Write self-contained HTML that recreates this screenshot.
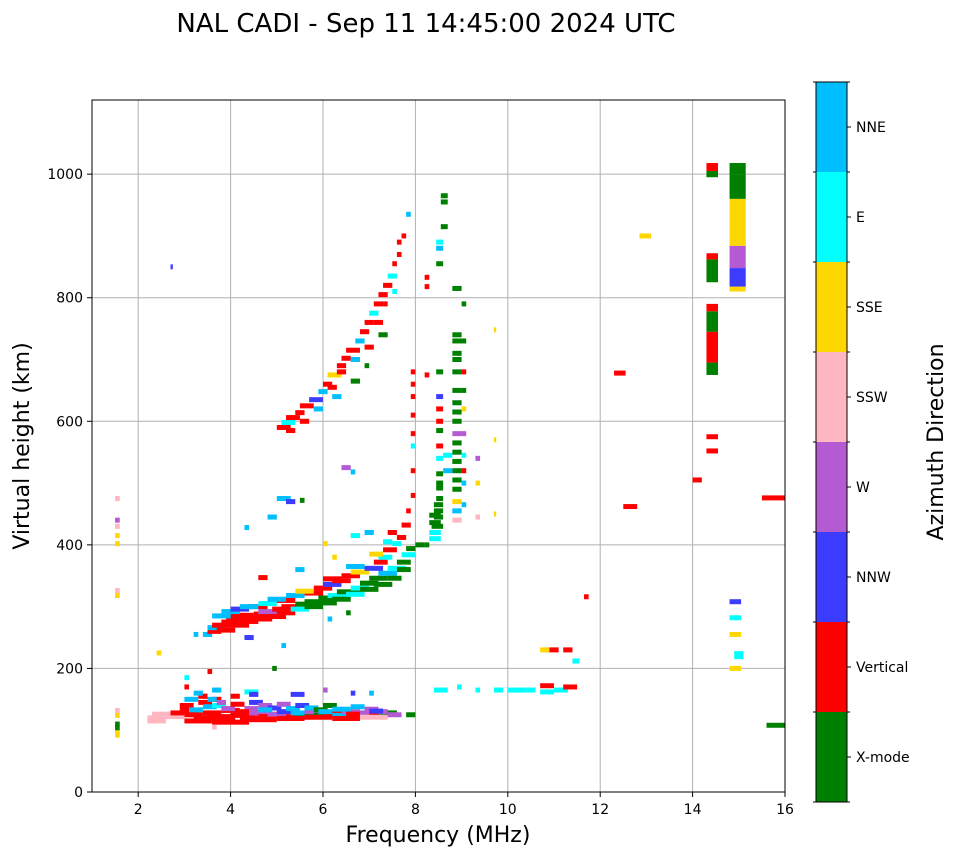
<!DOCTYPE html>
<html><head><meta charset="utf-8"><style>
body{margin:0;background:#fff;}
svg text{font-family:"DejaVu Sans","Liberation Sans",sans-serif;}
</style></head><body>
<svg id="chart" width="958" height="857" viewBox="0 0 958 857" xmlns="http://www.w3.org/2000/svg">
<rect width="958" height="857" fill="#fff"/>
<text x="426" y="32" font-size="26" text-anchor="middle">NAL CADI - Sep 11 14:45:00 2024 UTC</text>
<g id="grid"></g>
<g id="marks"></g>
<rect x="92" y="100" width="693" height="692" fill="none" stroke="#000" stroke-width="1"/>
<g id="axes"></g>
<text x="438" y="842" font-size="22" text-anchor="middle">Frequency (MHz)</text>
<text transform="translate(29,446) rotate(-90)" font-size="22" text-anchor="middle">Virtual height (km)</text>
<g id="cbar"></g>
<text transform="translate(943,442) rotate(-90)" font-size="22" text-anchor="middle">Azimuth Direction</text>
</svg>
<script>
const xTicks=[2,4,6,8,10,12,14,16];
const yTicks=[0,200,400,600,800,1000];
const dirNames=['X-mode','Vertical','NNW','W','SSW','SSE','E','NNE'];
const dirColors=['#008000','#ff0000','#3c3cff','#b45ad2','#ffb6c1','#ffd700','#00ffff','#00bfff'];
// horizontal echo bars: [fStart, fEnd, height_km, dirIndex]
const echoBars=[
[2.2,2.6,115,4],[2.2,2.6,120,4],[2.3,2.7,126,4],[2.6,3.0,122,4],[2.7,3.0,128,1],[2.9,3.3,132,1],[3.0,3.4,125,1],[3.2,3.6,120,1],[3.4,3.8,128,1],[3.5,4.0,122,1],[3.6,4.1,117,1],[3.8,4.2,132,1],[4.0,4.5,124,1],[4.2,4.6,120,1],[4.4,4.8,128,3],[4.6,5.0,122,1],[4.8,5.2,126,3],[5.0,5.4,130,2],[5.2,5.5,122,1],[5.4,5.8,126,0],[5.6,6.0,130,3],[5.8,6.2,124,0],[6.0,6.4,128,1],[6.2,6.6,124,7],[6.4,6.8,130,3],[6.6,7.0,124,1],[6.8,7.2,128,3],[7.0,7.4,125,1],[7.2,7.6,128,0],[7.8,8.0,125,0],
[3.0,3.6,115,1],[3.6,4.4,113,1],[4.4,5.0,117,1],[5.0,5.6,119,1],[5.6,6.2,121,1],[6.2,6.8,119,1],[6.8,7.4,121,4],[7.4,7.7,125,3],
[2.9,3.2,140,1],[3.0,3.3,150,7],[3.3,3.6,145,1],[3.4,3.7,138,7],[3.6,3.9,140,6],[3.8,4.1,135,3],[4.0,4.3,142,1],[4.3,4.6,135,3],[4.4,4.7,145,2],[4.6,4.9,140,3],[4.8,5.1,136,2],[5.0,5.3,142,3],[5.2,5.5,135,7],[5.4,5.7,140,2],[5.6,5.9,136,7],[5.8,6.1,133,0],[6.0,6.3,140,0],[6.2,6.6,134,7],[6.6,6.9,138,7],[6.9,7.2,134,3],[7.2,7.4,130,3],
[3.1,3.4,133,7],[3.3,3.5,155,1],[3.6,3.8,150,1],[4.1,4.4,130,1],[4.6,4.9,133,7],[5.3,5.6,128,7],[5.9,6.2,130,7],[6.5,6.8,126,1],[7.0,7.3,131,2],
[3.0,3.1,170,1],[3.0,3.1,185,6],[3.2,3.4,160,7],[3.4,3.5,155,1],[3.5,3.7,150,7],[3.6,3.8,165,7],[3.7,3.9,145,3],[4.0,4.2,155,1],[4.3,4.6,162,6],[4.4,4.6,158,2],[4.9,5.0,200,0],[2.4,2.5,225,5],[5.3,5.6,158,2],[6.0,6.1,165,3],[6.6,6.7,160,2],[7.0,7.1,160,7],[3.5,3.6,195,1],[3.6,3.7,105,4],
[1.5,1.6,92,5],[1.5,1.6,98,5],[1.5,1.6,104,0],[1.5,1.6,110,0],[1.5,1.6,124,5],[1.5,1.6,132,4],[1.5,1.6,318,5],[1.5,1.6,326,4],[1.5,1.6,402,5],[1.5,1.6,415,5],[1.5,1.6,430,4],[1.5,1.6,440,3],[1.5,1.6,475,4],
[3.4,3.6,255,7],[3.5,3.8,260,1],[3.5,3.9,266,7],[3.6,4.0,270,1],[3.8,4.2,275,1],[3.9,4.3,280,1],[4.0,4.5,286,1],[4.3,4.8,282,1],[4.5,5.0,288,1],[4.6,5.2,292,3],[4.9,5.4,296,1],[5.1,5.6,300,1],[5.4,5.9,304,0],[5.6,6.1,308,0],[5.9,6.4,314,0],[6.1,6.6,318,6],[6.3,6.8,324,0],[6.6,7.0,330,6],[6.8,7.2,338,0],[7.0,7.4,346,0],[7.2,7.6,354,7],[7.4,7.8,362,6],[7.6,7.9,372,0],[7.7,8.0,384,6],[7.8,8.0,394,0],
[3.7,4.1,262,1],[4.0,4.4,270,1],[4.2,4.6,276,1],[4.5,4.9,280,1],[4.8,5.2,284,1],[5.0,5.4,290,1],[5.3,5.7,296,6],[5.6,6.0,300,0],[5.9,6.3,306,0],[6.2,6.6,312,0],[6.5,6.9,320,6],[6.8,7.2,328,0],[7.1,7.5,336,0],[7.4,7.7,346,0],[7.6,7.9,360,0],
[3.6,4.0,285,7],[3.8,4.2,292,7],[4.0,4.4,296,2],[4.4,4.8,300,1],[4.6,5.0,305,6],[5.0,5.4,310,1],[5.2,5.6,318,7],[5.6,6.0,322,1],[5.8,6.2,330,1],[6.0,6.4,336,2],[6.2,6.6,342,1],[6.4,6.8,350,1],[6.6,7.0,356,5],[6.9,7.3,362,2],[7.1,7.4,372,1],[7.2,7.5,380,6],[7.3,7.6,392,1],[7.5,7.7,402,6],[7.6,7.8,412,1],[7.4,7.6,420,1],[7.7,7.9,432,1],[7.8,7.9,455,1],[7.9,8.0,480,1],
[4.2,4.6,300,7],[4.8,5.2,312,7],[5.4,5.8,325,5],[6.0,6.4,345,1],[6.5,6.9,365,7],[7.0,7.3,385,5],[7.3,7.5,405,6],
[7.9,8.0,520,1],[7.9,8.0,560,6],[7.9,8.0,580,1],[7.9,8.0,610,1],[7.9,8.0,640,1],[7.9,8.0,660,1],[7.9,8.0,680,1],
[4.6,4.8,347,1],[5.4,5.6,360,7],[6.2,6.3,380,5],[6.6,6.8,415,6],[6.9,7.1,420,7],[6.0,6.1,402,5],[3.2,3.3,255,7],[4.3,4.5,250,2],[5.1,5.2,237,7],[6.1,6.2,280,7],[6.5,6.6,290,0],
[5.0,5.3,590,1],[5.1,5.4,598,6],[5.2,5.5,606,1],[5.4,5.6,614,1],[5.5,5.8,625,1],[5.7,6.0,635,2],[5.9,6.1,648,7],[6.0,6.2,660,1],[6.1,6.4,675,5],[6.3,6.5,690,1],[6.4,6.6,702,1],[6.5,6.8,715,1],[6.7,6.9,730,7],[6.8,7.0,745,1],[6.9,7.1,760,1],[7.0,7.2,775,6],[7.1,7.3,790,1],[7.2,7.4,805,1],[7.3,7.5,820,1],[7.4,7.6,835,6],[7.5,7.6,855,1],[7.6,7.7,870,1],[7.6,7.7,890,1],[7.7,7.8,900,1],[7.8,7.9,935,7],[6.6,6.8,665,0],[6.9,7.0,690,0],[7.2,7.4,740,0],[6.2,6.4,640,7],[6.4,6.6,525,3],[6.6,6.7,518,7],
[5.2,5.4,585,1],[5.5,5.7,600,1],[5.8,6.0,620,7],[6.1,6.3,655,1],[6.3,6.5,680,1],[6.6,6.8,700,7],[6.9,7.1,720,1],[7.1,7.3,760,1],[7.3,7.4,790,1],[7.5,7.6,810,6],
[4.8,5.0,445,7],[5.0,5.3,475,7],[5.2,5.4,470,2],[4.3,4.4,428,7],[5.5,5.6,472,0],
[8.3,8.55,410,6],[8.3,8.55,420,6],[8.35,8.6,430,0],[8.4,8.6,445,0],[8.4,8.6,455,0],[8.45,8.6,475,0],[8.45,8.6,492,0],[8.45,8.6,515,0],[8.45,8.6,540,6],[8.45,8.6,560,1],[8.45,8.6,585,0],[8.45,8.6,600,1],[8.45,8.6,620,1],[8.45,8.6,640,2],[8.45,8.6,680,0],[8.45,8.6,855,0],[8.45,8.6,880,7],[8.45,8.6,890,6],[8.55,8.7,965,0],[8.55,8.7,955,0],[8.55,8.7,915,0],
[8.3,8.55,436,0],[8.3,8.55,448,0],[8.4,8.6,465,0],[8.45,8.6,500,0],
[8.8,9.0,440,4],[8.8,9.0,455,7],[8.8,9.0,470,5],[8.8,9.0,490,0],[8.8,9.0,505,0],[8.8,9.0,520,0],[8.8,9.0,535,0],[8.8,9.0,550,0],[8.8,9.0,565,0],[8.8,9.0,580,3],[8.8,9.0,600,0],[8.8,9.0,615,0],[8.8,9.0,630,0],[8.8,9.0,650,0],[8.8,9.0,680,0],[8.8,9.0,700,0],[8.8,9.0,710,0],[8.8,9.0,740,0],[8.8,9.1,730,0],[8.8,9.0,815,0],[9.0,9.1,500,7],[9.0,9.1,520,1],[9.0,9.1,545,6],[9.0,9.1,580,3],[9.0,9.1,620,5],[9.0,9.1,650,0],[9.0,9.1,680,1],[9.0,9.1,790,0],[9.0,9.1,465,7],[9.3,9.4,500,5],[9.3,9.4,540,3],[9.3,9.4,445,4],[9.7,9.75,748,5],[9.7,9.75,570,5],[9.7,9.75,450,5],[8.6,8.8,520,7],[8.6,8.8,545,6],[8.2,8.3,400,0],[8.2,8.3,833,1],[8.2,8.3,818,1],[8.2,8.3,675,1],[8.0,8.2,400,0],
[14.3,14.55,575,1],[14.3,14.55,552,1],[14.0,14.2,505,1],[14.8,15.05,200,5],[14.8,15.05,255,5],[14.8,15.05,282,6],[14.8,15.05,308,2],[15.5,16,476,1],[15.6,16,108,0],[12.3,12.55,678,1],[12.5,12.8,462,1],[12.85,13.1,900,5],[11.65,11.75,316,1],[10.7,10.9,230,5],[10.9,11.1,230,1],[11.2,11.4,230,1],[11.4,11.55,212,6],[8.4,8.7,165,6],[8.9,9.0,170,6],[9.3,9.4,165,6],[9.7,9.9,165,6],[10.0,10.4,165,6],[10.4,10.6,165,6],[10.7,11.0,172,1],[10.7,11.0,162,6],[11.0,11.3,165,6],[11.2,11.5,170,1],[2.7,2.75,850,2]
];
// vertical echo blocks: [fStart, fEnd, hStart, hEnd, dirIndex]
const echoBlocks=[
[14.3,14.55,675,695,0],[14.3,14.55,695,745,1],[14.3,14.55,745,778,0],[14.3,14.55,778,790,1],[14.3,14.55,825,862,0],[14.3,14.55,862,872,1],[14.3,14.55,995,1005,0],[14.3,14.55,1005,1018,1],
[14.8,15.15,810,818,5],[14.8,15.15,818,848,2],[14.8,15.15,848,884,3],[14.8,15.15,884,960,5],[14.8,15.15,960,1000,0],[14.8,15.15,1000,1018,0],[14.9,15.1,215,228,6]
];
const NS='http://www.w3.org/2000/svg';
const X0=92,X1=785,Y0=792,Y1=100,FMIN=1,FMAX=16,HMIN=0,HMAX=1120;
function xs(f){return X0+(f-FMIN)/(FMAX-FMIN)*(X1-X0);}
function ys(h){return Y0-(h-HMIN)/(HMAX-HMIN)*(Y0-Y1);}
function mk(tag,attrs,parent){const e=document.createElementNS(NS,tag);for(const k in attrs)e.setAttribute(k,attrs[k]);parent.appendChild(e);return e;}
const grid=document.getElementById('grid'),axes=document.getElementById('axes'),marks=document.getElementById('marks'),cbar=document.getElementById('cbar');
xTicks.forEach(t=>{const x=xs(t);
 const g=mk('line',{x1:x,x2:x,y1:Y1,y2:Y0,stroke:'#b0b0b0','stroke-width':1},grid);
 
 
 mk('line',{x1:x,x2:x,y1:Y0,y2:Y0+5,stroke:'#000'},axes);
 const tx=mk('text',{x:x,y:Y0+22,'font-size':14,'text-anchor':'middle'},axes);tx.textContent=t;
 
 
});
yTicks.forEach(t=>{const y=ys(t);
 const g=mk('line',{x1:X0,x2:X1,y1:y,y2:y,stroke:'#b0b0b0','stroke-width':1},grid);
 
 
 mk('line',{x1:X0-5,x2:X0,y1:y,y2:y,stroke:'#000'},axes);
 const tx=mk('text',{x:X0-9,y:y+5,'font-size':14,'text-anchor':'end'},axes);tx.textContent=t;
 
 
});
echoBars.forEach(b=>{const x=xs(b[0]),w=Math.max(2,xs(b[1])-x);
 const r=mk('rect',{x:x,y:ys(b[2])-2.5,width:w,height:5,fill:dirColors[b[3]]},marks);
 
 
});
echoBlocks.forEach(b=>{const x=xs(b[0]);
 const r=mk('rect',{x:x,y:ys(b[3]),width:xs(b[1])-x,height:ys(b[2])-ys(b[3]),fill:dirColors[b[4]]},marks);
 
 
});
const CX=816,CW=31,CT=82,CB=802,seg=(CB-CT)/dirNames.length;
dirNames.forEach((n,i)=>{const yTop=CB-(i+1)*seg;
 const r=mk('rect',{x:CX,y:yTop,width:CW,height:seg,fill:dirColors[i]},cbar);
 
 
 mk('line',{x1:CX+CW,x2:CX+CW+4,y1:yTop+seg/2,y2:yTop+seg/2,stroke:'#000'},cbar);
 const tx=mk('text',{x:CX+CW+9,y:yTop+seg/2+5,'font-size':14},cbar);tx.textContent=n;
 
 
});
for(let i=0;i<=dirNames.length;i++){const y=CT+i*seg;mk('line',{x1:CX-3,x2:CX,y1:y,y2:y,stroke:'#000'},cbar);mk('line',{x1:CX+CW,x2:CX+CW+3,y1:y,y2:y,stroke:'#000'},cbar);}
mk('rect',{x:CX,y:CT,width:CW,height:CB-CT,fill:'none',stroke:'#000'},cbar);
</script>
</body></html>
